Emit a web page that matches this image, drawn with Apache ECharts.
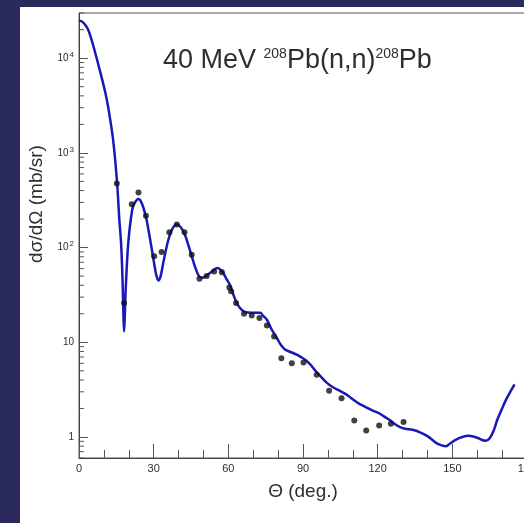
<!DOCTYPE html>
<html><head><meta charset="utf-8">
<script src="https://cdn.jsdelivr.net/npm/echarts@6/dist/echarts.min.js"></script>
<style>html,body{margin:0;padding:0;background:#2b2a5c;overflow:hidden;width:524px;height:523px}
#wrap{position:relative;width:524px;height:523px;overflow:hidden}
#c{position:absolute;left:0;top:0;width:532px;height:523px}</style>
</head><body><div id="wrap"><div id="c"></div></div>
<script>
// Optical-model curve (theta in degrees, dσ/dΩ in mb/sr)
const curveAngles = [0, 1.6, 3.2, 4.4, 6.4, 8.4, 10.5, 11.7, 13.7, 15.3, 16.2, 16.9, 17.5, 17.8, 18.1, 18.4, 18.8, 19.8, 21.4, 22.5, 23.9, 25.3, 26.9, 27.9, 29, 30.2, 31, 31.9, 32.8, 33.8, 35.9, 37.5, 39.3, 40.8, 42.4, 44, 45.5, 46.6, 48, 49.3, 51, 53, 55.6, 57.5, 59, 60.7, 62, 63.4, 65, 66.5, 68, 70, 72.8, 74, 75.5, 77.5, 79.5, 81, 82.8, 85, 87.5, 89.5, 91, 93, 95, 97, 99.5, 102, 105, 107.5, 110, 112.5, 115, 118, 120.3, 122.5, 125, 127, 129, 131, 134, 137, 140, 142, 144, 146, 147.5, 149, 151.5, 154, 156.5, 158.5, 160.5, 162, 163.5, 165, 166.5, 168, 170, 171.5, 173, 175];
const curveValues = [25060, 23900, 21100, 17700, 11700, 7380, 4430, 3070, 1380, 484, 197, 112, 45, 22, 13, 19, 38, 112, 252, 300, 325, 290, 210, 154, 105, 68, 52, 45, 50, 68, 121, 158, 175, 165, 140, 105, 78, 63, 51, 48, 50, 55, 61, 56, 48, 40, 32, 26, 22.5, 21, 20.6, 20.5, 20.5, 19, 17.3, 13.5, 11.1, 9.5, 8.4, 7.9, 7.4, 6.9, 6.5, 5.8, 5.0, 4.4, 3.75, 3.35, 3.05, 2.8, 2.5, 2.25, 2.08, 1.9, 1.8, 1.65, 1.5, 1.36, 1.27, 1.22, 1.19, 1.12, 1.02, 0.93, 0.85, 0.81, 0.8, 0.85, 0.94, 1.0, 1.03, 1.01, 0.97, 0.93, 0.91, 0.97, 1.15, 1.5, 2.0, 2.45, 2.9, 3.6];
// Measured data points
const dataAngles = [15.2, 18.1, 21.2, 23.9, 26.9, 30.2, 33.2, 36.3, 39.3, 42.4, 45.3, 48.4, 51.3, 54.3, 57.4, 60.4, 61.1, 63.1, 66.3, 69.4, 72.5, 75.5, 78.4, 81.3, 85.5, 90.2, 95.5, 100.5, 105.5, 110.6, 115.4, 120.6, 125.3, 130.4];
const dataValues = [475, 26, 286, 382, 217, 81, 90, 145, 175, 145, 84, 47, 50, 56, 55, 38, 34.5, 26, 20, 19.2, 18, 15, 11.5, 6.8, 6.0, 6.1, 4.55, 3.08, 2.56, 1.49, 1.17, 1.32, 1.38, 1.44];
// Axis tick labels
const xTickLabels = [0, 30, 60, 90, 120, 150, 180];
const yTickLabels = [1, 10, 100, 1000, 10000];
const yMinorTicks = [0.6, 0.7, 0.8, 0.9, 2, 3, 4, 5, 6, 7, 8, 9, 20, 30, 40, 50, 60, 70, 80, 90, 200, 300, 400, 500, 600, 700, 800, 900, 2000, 3000, 4000, 5000, 6000, 7000, 8000, 9000, 20000, 30000];

const chart = echarts.init(document.getElementById('c'), null, {width: 532, height: 523});
const FONT = '"Liberation Sans", Arial, sans-serif';
const TXT = '#2e2e2e';
chart.setOption({
  animation: false,
  backgroundColor: '#2b2a5c',
  graphic: [
    {type: 'rect', x: 20, y: 7, shape: {width: 512, height: 516}, style: {fill: '#ffffff'}, z: -100, silent: true},
    {type: 'text', x: 37, y: 204, rotation: Math.PI / 2, z: 10,
     style: {text: 'dσ/dΩ (mb/sr)', font: '19px ' + FONT, fill: TXT, align: 'center', verticalAlign: 'middle'}}
  ],
  title: {
    text: '{a|40 MeV }{s|208}{a|Pb(n,n)}{s|208}{a|Pb}',
    left: 158, top: 42,
    textStyle: {
      fontWeight: 'normal',
      rich: {
        a: {fontSize: 27, fontFamily: FONT, color: TXT, fontWeight: 'normal'},
        s: {fontSize: 14, fontFamily: FONT, color: TXT, fontWeight: 'normal', padding: [0, 0, 13, 0]}
      }
    }
  },
  grid: {left: 79, top: 13, right: 5, bottom: 65, outerBoundsMode: 'none', containLabel: false,
         show: true, borderColor: '#555', borderWidth: 1, backgroundColor: 'transparent'},
  xAxis: {
    type: 'value', min: 0, max: 180, interval: 30,
    axisLine: {lineStyle: {color: '#444', width: 1}},
    axisTick: {inside: true, length: 14, lineStyle: {color: '#555'}},
    minorTick: {show: true, splitNumber: 3, length: 8, lineStyle: {color: '#555'}},
    splitLine: {show: false},
    axisLabel: {fontSize: 11, fontFamily: FONT, color: TXT, margin: 5,
      formatter: v => xTickLabels.indexOf(v) >= 0 ? String(v) : ''},
    name: 'Θ (deg.)', nameLocation: 'middle', nameGap: 24,
    nameTextStyle: {fontSize: 19, fontFamily: FONT, color: TXT}
  },
  yAxis: {
    type: 'log', logBase: 10, min: 0.6, max: 30000,
    axisLine: {lineStyle: {color: '#444', width: 1}},
    axisTick: {inside: true, length: 9, lineStyle: {color: '#555'}},
    splitLine: {show: false},
    axisLabel: {
      showMinLabel: false, showMaxLabel: false, margin: 5,
      formatter: v => {
        const i = yTickLabels.findIndex(t => Math.abs(t - v) / t < 1e-6);
        if (i < 0) return '';
        if (i === 0) return '{b|1}';
        if (i === 1) return '{b|10}';
        return '{b|10}{s|' + i + '}';
      },
      rich: {
        b: {fontSize: 10, fontFamily: FONT, color: TXT},
        s: {fontSize: 8, fontFamily: FONT, color: TXT, padding: [0, 0, 7, 1]}
      }
    }
  },
  series: [
    {
      type: 'custom', silent: true, z: 3,
      data: yMinorTicks.map(v => [0, v]),
      renderItem: (params, api) => {
        const p = api.coord([api.value(0), api.value(1)]);
        return {type: 'line', shape: {x1: p[0], y1: p[1], x2: p[0] + 5, y2: p[1]},
                style: {stroke: '#555', lineWidth: 1}};
      }
    },
    {
      type: 'line', smooth: 0.35, showSymbol: false, z: 4,
      data: curveAngles.map((a, i) => [a, curveValues[i]]),
      lineStyle: {color: '#1818b8', width: 2.5}
    },
    {
      type: 'scatter', symbol: 'circle', symbolSize: 6, z: 5,
      data: dataAngles.map((a, i) => [a, dataValues[i]]),
      itemStyle: {color: '#111111'}
    }
  ]
});
</script></body></html>
